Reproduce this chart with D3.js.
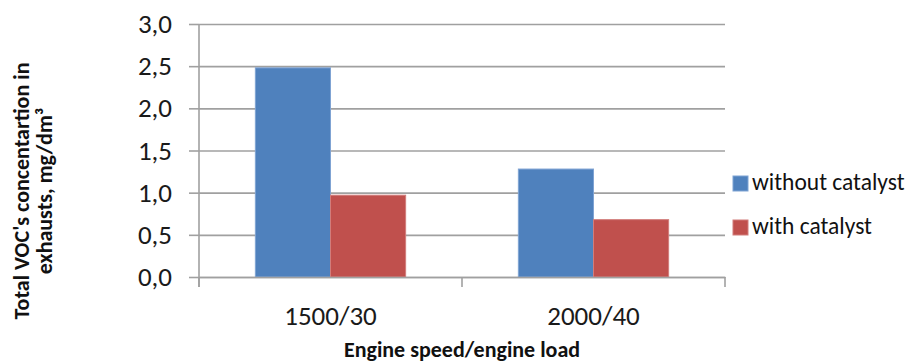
<!DOCTYPE html>
<html>
<head>
<meta charset="utf-8">
<script src="https://cdn.jsdelivr.net/npm/d3@7"></script>
<style>
  html, body { margin: 0; padding: 0; background: #fff; }
  svg { display: block; font-family: Carlito, Calibri, Lato, sans-serif; }
</style>
</head>
<body>
<svg id="chart" width="907" height="363"></svg>
<script>
// Total VOC concentration in exhaust gas, with and without catalyst
const categories = ["1500/30", "2000/40"];
const seriesNames = ["without catalyst", "with catalyst"];
const withoutCatalyst = [2.48, 1.28];
const withCatalyst = [0.97, 0.68];
const yTicks = [0, 0.5, 1, 1.5, 2, 2.5, 3];
const seriesColors = ["#4f81bd", "#c0504d"];
const seriesEdges = ["#7fa3d3", "#d27d7b"];

const seriesValues = [withoutCatalyst, withCatalyst];

const svg = d3.select("#chart");
const plot = { left: 199, right: 725, top: 24, bottom: 277 };
const grid = "#a0a0a0";
const font = "Carlito, Calibri, Lato, sans-serif";

const y = d3.scaleLinear().domain([0, 3]).range([plot.bottom, plot.top]);
const x0 = d3.scaleBand().domain(categories).range([plot.left, plot.right]).padding(0);
// bars fill 2 of 3.5 bar-widths per category (150% gap)
const gap = x0.bandwidth() * 1.5 / 3.5;
const x1 = d3.scaleBand().domain(seriesNames).range([gap / 2, x0.bandwidth() - gap / 2]).padding(0);

const fmt = v => d3.format(".1f")(v).replace(".", ",");

// horizontal gridlines
svg.append("g")
  .attr("transform", `translate(${plot.left},0)`)
  .call(d3.axisLeft(y).tickValues(yTicks).tickSize(-(plot.right - plot.left)).tickFormat(""))
  .call(g => g.select(".domain").remove())
  .call(g => g.selectAll("line").attr("stroke", grid).attr("stroke-width", 1.6));

// bars
const groups = svg.append("g").selectAll("g")
  .data(categories)
  .join("g")
  .attr("transform", d => `translate(${x0(d)},0)`);

groups.selectAll("rect")
  .data((c, i) => seriesNames.map((s, j) => ({ s, j, v: seriesValues[j][i] })))
  .join("rect")
  .attr("x", d => x1(d.s))
  .attr("width", x1.bandwidth())
  .attr("y", d => y(d.v))
  .attr("height", d => y(0) - y(d.v))
  .attr("fill", d => seriesColors[d.j])
  .attr("stroke", d => seriesEdges[d.j])
  .attr("stroke-width", 1);

// y axis
svg.append("g")
  .attr("transform", `translate(${plot.left},0)`)
  .call(d3.axisLeft(y).tickValues(yTicks).tickSize(10).tickPadding(17).tickFormat(fmt))
  .call(g => g.select(".domain").remove())
  .call(g => g.selectAll("line").attr("stroke", grid).attr("stroke-width", 1.6))
  .call(g => g.selectAll("text").attr("font-size", 27).attr("fill", "#1a1a1a")
    .attr("font-family", font));

svg.append("line")
  .attr("x1", plot.left).attr("x2", plot.left)
  .attr("y1", plot.top).attr("y2", plot.bottom + 10)
  .attr("stroke", grid).attr("stroke-width", 1.6);

// x axis: category labels, with tick marks on category boundaries
svg.append("g")
  .attr("transform", `translate(0,${plot.bottom})`)
  .call(d3.axisBottom(x0).tickSize(0).tickPadding(29))
  .call(g => g.select(".domain").attr("stroke", grid).attr("stroke-width", 1.6))
  .call(g => g.selectAll("text").attr("font-size", 27).attr("fill", "#1a1a1a")
    .attr("font-family", font));

const boundaries = categories.map(c => x0(c)).concat([x0.range()[1]]);
svg.append("g").selectAll("line")
  .data(boundaries)
  .join("line")
  .attr("x1", d => d).attr("x2", d => d)
  .attr("y1", plot.bottom).attr("y2", plot.bottom + 10)
  .attr("stroke", grid).attr("stroke-width", 1.6);

// axis titles
svg.append("text")
  .attr("x", 462)
  .attr("y", 357)
  .attr("text-anchor", "middle")
  .attr("font-size", 22)
  .attr("font-weight", "bold")
  .attr("fill", "#111")
  .text("Engine speed/engine load");

const yTitle = svg.append("text")
  .attr("transform", "translate(0,191) rotate(-90)")
  .attr("text-anchor", "middle")
  .attr("font-size", 22)
  .attr("font-weight", "bold")
  .attr("fill", "#111");
yTitle.append("tspan").attr("x", 0).attr("y", 29).text("Total VOC's concentartion in");
yTitle.append("tspan").attr("x", 0).attr("y", 52).text("exhausts, mg/dm³");

// legend
const legend = svg.append("g").selectAll("g")
  .data(seriesNames)
  .join("g")
  .attr("transform", (d, i) => `translate(733,${176 + i * 44})`);

legend.append("rect")
  .attr("width", 15).attr("height", 15)
  .attr("fill", (d, i) => seriesColors[i])
  .attr("stroke", (d, i) => seriesEdges[i]).attr("stroke-width", 1);

legend.append("text")
  .attr("x", 19).attr("y", 14)
  .attr("font-size", 23.5)
  .attr("fill", "#111")
  .text(d => d);
</script>
</body>
</html>
